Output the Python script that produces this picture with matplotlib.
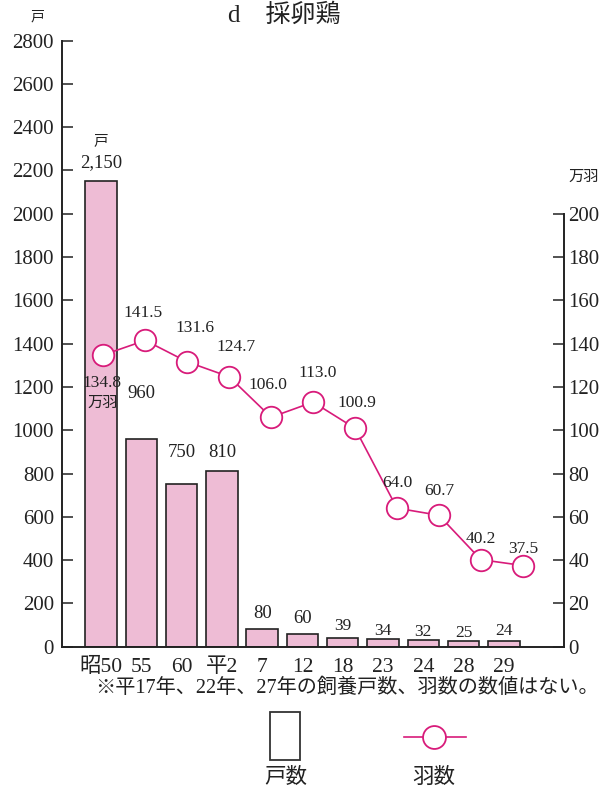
import matplotlib.pyplot as plt
from matplotlib.patches import Rectangle
from matplotlib.lines import Line2D

plt.rcParams['font.family'] = ['Liberation Serif', 'Noto Sans CJK JP']

# data
years = ["昭50", "55", "60", "平2", "7", "12", "18", "23", "24", "28", "29"]
farms = [2150, 960, 750, 810, 80, 60, 39, 34, 32, 25, 24]          # 戸数
farm_labels = ["2,150", "960", "750", "810", "80", "60", "39", "34", "32", "25", "24"]
birds = [134.8, 141.5, 131.6, 124.7, 106.0, 113.0, 100.9, 64.0, 60.7, 40.2, 37.5]  # 万羽

# label offsets in pixels (dx, dy)
farm_dy = [19, 45, 32, 19, 16, 15, 12, 8, 8, 8, 10]
bird_off = [(-1, -28), (-2, 27), (8, 34), (7, 30), (-3, 32), (5, 29),
            (2, 25), (0, 25), (0, 24), (0, 21), (0, 17)]

bar_col = "#EEBCD5"
line_col = "#D81B7A"
txt = "#222222"

fig = plt.figure(figsize=(6.05, 7.92), dpi=100)
rect = [0.103, 0.1835, 0.8298, 0.7652]

# bars (戸数)
ax = fig.add_axes(rect)
x = list(range(len(years)))
ax.bar(x, farms, width=0.78, color=bar_col, edgecolor="#222222", linewidth=1.2)
ax.set_xlim(-0.96, 11.50)
ax.set_ylim(0, 2800)
ax.set_yticks(range(0, 2801, 200))
ax.set_xticks(x)
ax.set_xticklabels(years)
ax.tick_params(axis="y", direction="in", length=8, width=1.1, pad=6,
               labelsize=15, colors=txt)
ax.tick_params(axis="x", length=0, pad=8, labelsize=15.5, colors=txt)
for s in ["top", "right"]:
    ax.spines[s].set_visible(False)
for s in ["left", "bottom"]:
    ax.spines[s].set_linewidth(1.4)
    ax.spines[s].set_color(txt)

for i, v in enumerate(farms):
    ax.annotate(farm_labels[i], (i, v), xytext=(0, farm_dy[i]),
                textcoords="offset pixels", ha="center", va="center",
                fontsize=13.5 if v > 50 else 12.5, color=txt)
ax.annotate("戸", (0, farms[0]), xytext=(0, 40), textcoords="offset pixels",
            ha="center", va="center", fontsize=10.5, color=txt)

# line (羽数)
ax2 = fig.add_axes(rect)
ax2.patch.set_visible(False)
ax2.plot(x, birds, color=line_col, linewidth=1.2, marker="o", markersize=15.5,
         markerfacecolor="white", markeredgecolor=line_col, markeredgewidth=1.3)
ax2.set_xlim(-0.977, 10.99)
ax2.set_ylim(0, 280)
ax2.set_xticks([])
ax2.yaxis.tick_right()
ax2.set_yticks(range(0, 201, 20))
ax2.tick_params(axis="y", direction="in", length=8, width=1.1, pad=3,
                labelsize=15, colors=txt)
for s in ["top", "left", "bottom"]:
    ax2.spines[s].set_visible(False)
ax2.spines["right"].set_bounds(0, 200)
ax2.spines["right"].set_linewidth(1.4)
ax2.spines["right"].set_color(txt)

for i, v in enumerate(birds):
    dx, dy = bird_off[i]
    ax2.annotate(f"{v:.1f}", (i, v), xytext=(dx, dy), textcoords="offset pixels",
                 ha="center", va="center", fontsize=12.5, color=txt)
ax2.annotate("万羽", (0, birds[0]), xytext=(-1, -48), textcoords="offset pixels",
             ha="center", va="center", fontsize=11, color=txt)

# titles and units
fig.text(284 / 605, 1 - 22 / 792, "d　採卵鶏", ha="center", va="baseline",
         fontsize=18, color=txt)
fig.text(37 / 605, 1 - 17 / 792, "戸", ha="center", va="center", fontsize=10, color=txt)
fig.text(584 / 605, 1 - 177 / 792, "万羽", ha="center", va="center", fontsize=11, color=txt)
fig.text(347 / 605, 1 - 688 / 792, "※平17年、22年、27年の飼養戸数、羽数の数値はない。",
         ha="center", va="center", fontsize=14.5, color=txt)

# legend
fig.add_artist(Rectangle((270 / 605, 1 - 760 / 792), 30 / 605, 48 / 792,
                         transform=fig.transFigure, facecolor="white",
                         edgecolor="#333333", linewidth=1.3))
fig.add_artist(Line2D([404 / 605, 466 / 605], [1 - 737 / 792, 1 - 737 / 792],
                      transform=fig.transFigure, color=line_col, linewidth=1.2))
fig.add_artist(Line2D([434 / 605], [1 - 737 / 792], transform=fig.transFigure,
                      marker="o", markersize=16.5, markerfacecolor="white",
                      markeredgecolor=line_col, markeredgewidth=1.3))
fig.text(286 / 605, 1 - 778 / 792, "戸数", ha="center", va="center", fontsize=15.5, color=txt)
fig.text(434 / 605, 1 - 778 / 792, "羽数", ha="center", va="center", fontsize=15.5, color=txt)

fig.savefig("out.png", dpi=100)
